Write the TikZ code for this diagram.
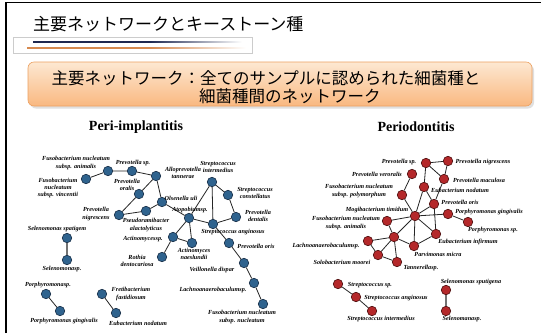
\documentclass[tikz,border=0pt]{standalone}
\usepackage{fontspec}
\setmainfont{Liberation Serif}
\newfontfamily\jpfont{Noto Sans CJK JP}
\usetikzlibrary{positioning}

\definecolor{nodeblue}{RGB}{47,99,142}
\definecolor{rimblue}{RGB}{22,45,70}
\definecolor{nodered}{RGB}{180,40,42}
\definecolor{rimred}{RGB}{75,12,12}
\definecolor{boxtop}{RGB}{253,232,210}
\definecolor{boxbot}{RGB}{249,184,128}
\definecolor{boxline}{RGB}{236,160,96}
\definecolor{rulenavy}{RGB}{30,40,80}
\definecolor{ruleorange}{RGB}{214,138,80}

\tikzset{
  bnode/.style={circle, fill=nodeblue, draw=rimblue, line width=0.6pt, minimum size=9.5pt, inner sep=0pt},
  rnode/.style={circle, fill=nodered, draw=rimred, line width=0.6pt, minimum size=9.5pt, inner sep=0pt},
  lbl/.style={font=\fontsize{6.2}{7.4}\selectfont\bfseries\itshape, align=center, inner sep=0pt},
  link/.style={draw=black!85, line width=0.8pt},
  glink/.style={draw=black!55, line width=1.3pt},
  head/.style={font=\fontsize{14}{14}\selectfont\bfseries, inner sep=0pt},
}

\begin{document}
\begin{tikzpicture}[x=1pt, y=-1pt]
    \useasboundingbox (0,0) rectangle (541,333);
    \fill[white] (0,0) rectangle (541,333);

    % slide frame and title
    \draw[line width=1.6pt] (6,333) -- (6,2.5) -- (541,2.5);
    \node[font=\jpfont\fontsize{17}{17}\selectfont, anchor=west, inner sep=0pt] (title) at (33,24) {主要ネットワークとキーストーン種};
    \draw[black!20, line width=0.5pt] (13,37) rectangle (252,53);
    \fill[rulenavy] (33,41) rectangle (150,42.8);
    \shade[left color=rulenavy, right color=white] (150,41) rectangle (242,42.8);
    \fill[ruleorange] (27,47) rectangle (150,48.6);
    \shade[left color=ruleorange, right color=white] (150,47) rectangle (246,48.6);

    % orange banner
    \fill[black!12, rounded corners=6pt] (30,64.5) rectangle (534,108.5);
    \shade[top color=boxtop, bottom color=boxbot, draw=boxline, line width=0.6pt, rounded corners=6pt] (28,62) rectangle (532,106);
    \node[font=\jpfont\fontsize{16.5}{16.5}\selectfont, inner sep=0pt] (line1) at (266,78) {主要ネットワーク：全てのサンプルに認められた細菌種と};
    \node[font=\jpfont\fontsize{16.5}{16.5}\selectfont, inner sep=0pt, anchor=west] (line2) at (199,96.5) {細菌種間のネットワーク};

    \node[head] (peri) at (136,127) {Peri-implantitis};
    \node[head] (perio) at (416,127) {Periodontitis};

    % Peri-implantitis network
    \node[bnode] (bFa) at (108,171) {};
    \node[bnode] (bPs) at (132,171) {};
    \node[bnode] (bFv) at (86,179) {};
    \node[bnode] (bAl) at (156,176) {};
    \node[bnode] (bOr) at (139,194) {};
    \node[bnode] (bOl) at (162,202) {};
    \node[bnode] (bNi) at (119,215) {};
    \node[bnode] (bPr) at (146,211) {};
    \node[bnode] (bAt) at (189,218) {};
    \node[bnode] (bSi) at (212,182) {};
    \node[bnode] (bSc) at (228,195) {};
    \node[bnode] (bPd) at (236,217) {};
    \node[bnode] (bSa) at (213,224) {};
    \node[bnode] (bAs) at (173,237) {};
    \node[bnode] (bAn) at (192,243) {};
    \node[bnode] (bRo) at (162,257) {};
    \node[bnode] (bPo) at (229,243) {};
    \node[bnode] (bVd) at (244,263) {};
    \node[bnode] (bLa) at (254,283) {};
    \node[bnode] (bFn) at (263,304) {};
    \node[bnode] (bSs) at (67,238) {};
    \node[bnode] (bSn) at (67,260) {};
    \node[bnode] (bPh) at (46,294) {};
    \node[bnode] (bPg) at (60,311) {};
    \node[bnode] (bFf) at (102,294) {};
    \node[bnode] (bEn) at (116,313) {};

    \draw[link] (bFv) -- (bFa) -- (bPs) -- (bAl) -- (bOl) -- (bAt);
    \draw[link] (bAl) -- (bOr) -- (bNi) -- (bPr) -- (bOl);
    \draw[link] (bAt) -- (bSi) -- (bSc) -- (bPd) -- (bSa) -- (bAt);
    \draw[link] (bSi) -- (bSa) -- (bPo) -- (bVd) -- (bLa) -- (bFn);
    \draw[link] (bAt) -- (bAs) -- (bAn) -- (bAt);
    \draw[link] (bAs) -- (bRo);
    \draw[glink] (bSs) -- (bSn);
    \draw[link] (bPh) -- (bPg);
    \draw[link] (bFf) -- (bEn);

    \node[lbl] (tFa) at (76,163) {Fusobacterium nucleatum\\subsp. animalis};
    \node[lbl] (tPs) at (133,163) {Prevotella sp.};
    \node[lbl] (tFv) at (58,188) {Fusobacterium\\nucleatum\\subsp. vincentii};
    \node[lbl] (tAl) at (183,173) {Alloprevotella\\tannerae};
    \node[lbl] (tOr) at (127,185) {Prevotella\\oralis};
    \node[lbl] (tOl) at (181,198) {Olsenella uli};
    \node[lbl] (tNi) at (96,214) {Prevotella\\nigrescens};
    \node[lbl] (tPr) at (146,225) {Pseudoramibacter\\alactolyticus};
    \node[lbl] (tAt) at (190,210) {Atopobiumsp.};
    \node[lbl] (tSi) at (218,167) {Streptococcus\\intermedius};
    \node[lbl] (tSc) at (255,193) {Streptococcus\\constellatus};
    \node[lbl] (tPd) at (258,216) {Prevotella\\dentalis};
    \node[lbl] (tSa) at (233,232) {Streptococcus anginosus};
    \node[lbl] (tAs) at (143,239) {Actinomycessp.};
    \node[lbl] (tAn) at (194,254) {Actinomyces\\naeslundii};
    \node[lbl] (tRo) at (137,261) {Rothia\\dentocariosa};
    \node[lbl] (tPo) at (256,246) {Prevotella oris};
    \node[lbl] (tVd) at (212,270) {Veillonella dispar};
    \node[lbl] (tLa) at (213,290) {Lachnoanaerobaculumsp.};
    \node[lbl] (tFn) at (242,317) {Fusobacterium nucleatum\\subsp. nucleatum};
    \node[lbl] (tSs) at (57,229) {Selenomonas spatigem};
    \node[lbl] (tSn) at (62,269) {Selenomonasp.};
    \node[lbl] (tPh) at (48,285) {Porphyromonasp.};
    \node[lbl] (tPg) at (64,321) {Porphyromonas gingivalis};
    \node[lbl] (tFf) at (131,294) {Fretibacterium\\fastidiosum};
    \node[lbl] (tEn) at (138,323) {Eubacterium nodatum};

    % Periodontitis network
    \node[rnode] (rPs) at (426,163) {};
    \node[rnode] (rPn) at (448,161) {};
    \node[rnode] (rPv) at (412,174) {};
    \node[rnode] (rPm) at (444,179) {};
    \node[rnode] (rEn) at (424,187) {};
    \node[rnode] (rFp) at (402,195) {};
    \node[rnode] (rPo) at (434,204) {};
    \node[rnode] (rMt) at (415,216) {};
    \node[rnode] (rPg) at (448,214) {};
    \node[rnode] (rPh) at (468,222) {};
    \node[rnode] (rFa) at (387,221) {};
    \node[rnode] (rEi) at (436,234) {};
    \node[rnode] (rLa) at (368,241) {};
    \node[rnode] (rHb) at (394,237) {};
    \node[rnode] (rPa) at (414,246) {};
    \node[rnode] (rSo) at (378,255) {};
    \node[rnode] (rTa) at (397,262) {};
    \node[rnode] (rSp) at (338,284) {};
    \node[rnode] (rSa) at (356,297) {};
    \node[rnode] (rSi) at (372,311) {};
    \node[rnode] (rSs) at (446,290) {};
    \node[rnode] (rSn) at (446,311) {};

    \draw[link] (rPs) -- (rPn) -- (rPm) -- (rPs) -- (rEn) -- (rPo) -- (rPm);
    \draw[link] (rPv) -- (rFp) -- (rMt) -- (rEn);
    \draw[link] (rMt) -- (rPo) -- (rEi) -- (rMt) -- (rPg) -- (rPh);
    \draw[link] (rFa) -- (rMt) -- (rHb) -- (rFa);
    \draw[link] (rMt) -- (rPa) -- (rEi);
    \draw[link] (rLa) -- (rHb) -- (rSo) -- (rLa);
    \draw[link] (rHb) -- (rTa) -- (rSo);
    \draw[link] (rHb) -- (rPa);
    \draw[link] (rSp) -- (rSa) -- (rSi);
    \draw[glink] (rSs) -- (rSn);

    \node[lbl] (sPs) at (399,162) {Prevotella sp.};
    \node[lbl] (sPn) at (483,162) {Prevotella nigrescens};
    \node[lbl] (sPv) at (377,174) {Prevotella veroralis};
    \node[lbl] (sPm) at (479,180) {Prevotella maculosa};
    \node[lbl] (sEn) at (460,190) {Eubacterium nodatum};
    \node[lbl] (sFp) at (359,191) {Fusobacterium nucleatum\\subsp. polymorphum};
    \node[lbl] (sPo) at (460,202) {Prevotella oris};
    \node[lbl] (sMt) at (377,210) {Mogibacterium timidum};
    \node[lbl] (sPg) at (489,212) {Porphyromonas gingivalis};
    \node[lbl] (sPh) at (493,230) {Porphyromonas sp.};
    \node[lbl] (sFa) at (346,223) {Fusobacterium nucleatum\\subsp. animalis};
    \node[lbl] (sEi) at (468,242) {Eubacterium infirmum};
    \node[lbl] (sLa) at (326,246) {Lachnoanaerobaculumsp.};
    \node[lbl] (sPa) at (438,254) {Parvimonas micra};
    \node[lbl] (sSo) at (342,262) {Solobacterium moorei};
    \node[lbl] (sTa) at (421,268) {Tannerellasp.};
    \node[lbl] (sSp) at (370,285) {Streptococcus sp.};
    \node[lbl] (sSa) at (396,298) {Streptococcus anginosus};
    \node[lbl] (sSi) at (381,319) {Streptococcus intermedius};
    \node[lbl] (sSs) at (471,282) {Selenomonas sputigena};
    \node[lbl] (sSn) at (462,319) {Selenomanasp.};
\end{tikzpicture}
\end{document}
